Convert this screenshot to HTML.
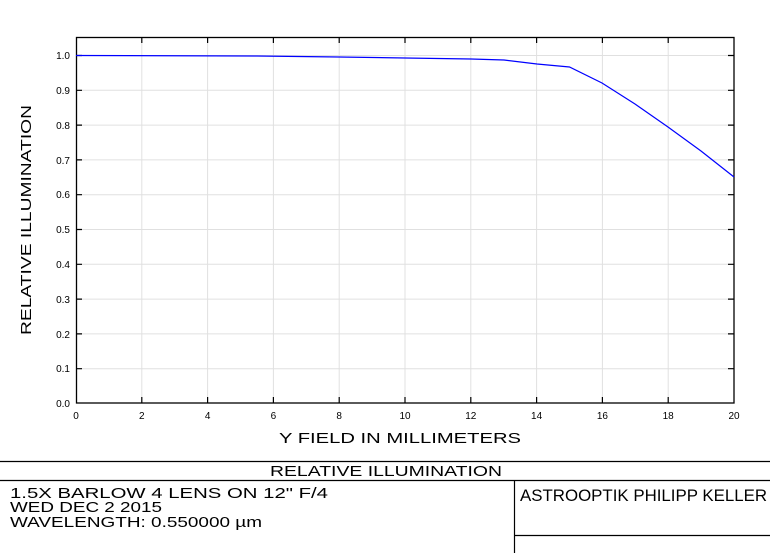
<!DOCTYPE html>
<html><head><style>
body{margin:0;background:#fff;}
svg{display:block;font-family:"Liberation Sans",sans-serif;}
</style></head><body>
<svg width="770" height="553" viewBox="0 0 770 553" xmlns="http://www.w3.org/2000/svg">
<g stroke="#e0e0e0" stroke-width="1">
<line x1="141.8" y1="37" x2="141.8" y2="403"/><line x1="207.6" y1="37" x2="207.6" y2="403"/>
<line x1="273.4" y1="37" x2="273.4" y2="403"/><line x1="339.2" y1="37" x2="339.2" y2="403"/>
<line x1="405" y1="37" x2="405" y2="403"/><line x1="470.8" y1="37" x2="470.8" y2="403"/>
<line x1="536.6" y1="37" x2="536.6" y2="403"/><line x1="602.4" y1="37" x2="602.4" y2="403"/>
<line x1="668.2" y1="37" x2="668.2" y2="403"/>
<line x1="76" y1="55.5" x2="734" y2="55.5"/><line x1="76" y1="90.3" x2="734" y2="90.3"/>
<line x1="76" y1="125.1" x2="734" y2="125.1"/><line x1="76" y1="159.9" x2="734" y2="159.9"/>
<line x1="76" y1="194.7" x2="734" y2="194.7"/><line x1="76" y1="229.5" x2="734" y2="229.5"/>
<line x1="76" y1="264.3" x2="734" y2="264.3"/><line x1="76" y1="299.1" x2="734" y2="299.1"/>
<line x1="76" y1="333.9" x2="734" y2="333.9"/><line x1="76" y1="368.7" x2="734" y2="368.7"/>
</g>
<rect x="76.5" y="37.5" width="657.5" height="365.5" fill="none" stroke="#000" stroke-width="1.3"/>
<g stroke="#000" stroke-width="1.2">
<path d="M141.8 403v-6M207.6 403v-6M273.4 403v-6M339.2 403v-6M405 403v-6M470.8 403v-6M536.6 403v-6M602.4 403v-6M668.2 403v-6"/>
<path d="M141.8 37v6M207.6 37v6M273.4 37v6M339.2 37v6M405 37v6M470.8 37v6M536.6 37v6M602.4 37v6M668.2 37v6"/>
<path d="M76 55.5h6M76 90.3h6M76 125.1h6M76 159.9h6M76 194.7h6M76 229.5h6M76 264.3h6M76 299.1h6M76 333.9h6M76 368.7h6"/>
<path d="M734 55.5h-6M734 90.3h-6M734 125.1h-6M734 159.9h-6M734 194.7h-6M734 229.5h-6M734 264.3h-6M734 299.1h-6M734 333.9h-6M734 368.7h-6"/>
</g>
<polyline fill="none" stroke="#0000ff" stroke-width="1.2" points="76,55.5 257,56 339,57 405,58 471,59 504,60 537,64 569.5,67 602,83 635,104 668,127 701,151 734,177"/>
<g font-size="10" fill="#000" text-anchor="end">
<text x="70" y="59">1.0</text><text x="70" y="94">0.9</text><text x="70" y="129">0.8</text>
<text x="70" y="164">0.7</text><text x="70" y="198">0.6</text><text x="70" y="233">0.5</text>
<text x="70" y="268">0.4</text><text x="70" y="303">0.3</text><text x="70" y="338">0.2</text>
<text x="70" y="372">0.1</text><text x="70" y="407">0.0</text>
</g>
<g font-size="10" fill="#000" text-anchor="middle">
<text x="76" y="419">0</text><text x="141.8" y="419">2</text><text x="207.6" y="419">4</text>
<text x="273.4" y="419">6</text><text x="339.2" y="419">8</text><text x="405" y="419">10</text>
<text x="470.8" y="419">12</text><text x="536.6" y="419">14</text><text x="602.4" y="419">16</text>
<text x="668.2" y="419">18</text><text x="734" y="419">20</text>
</g>
<text x="279" y="443" font-size="15" textLength="242" lengthAdjust="spacingAndGlyphs">Y FIELD IN MILLIMETERS</text>
<text transform="translate(31,335) rotate(-90)" font-size="15" textLength="230" lengthAdjust="spacingAndGlyphs">RELATIVE ILLUMINATION</text>
<g stroke="#000" stroke-width="1.2">
<line x1="0" y1="461.5" x2="770" y2="461.5"/>
<line x1="0" y1="480.5" x2="770" y2="480.5"/>
<line x1="514.5" y1="480" x2="514.5" y2="553"/>
<line x1="514" y1="535.5" x2="770" y2="535.5"/>
</g>
<text x="270" y="476" font-size="15" textLength="232" lengthAdjust="spacingAndGlyphs">RELATIVE ILLUMINATION</text>
<g font-size="14.5">
<text x="10" y="498" textLength="318" lengthAdjust="spacingAndGlyphs">1.5X BARLOW 4 LENS ON 12" F/4</text>
<text x="10" y="512" textLength="152" lengthAdjust="spacingAndGlyphs">WED DEC 2 2015</text>
<text x="10" y="527" textLength="252" lengthAdjust="spacingAndGlyphs">WAVELENGTH: 0.550000 µm</text>
</g>
<text x="520" y="501" font-size="17" textLength="247" lengthAdjust="spacingAndGlyphs">ASTROOPTIK PHILIPP KELLER</text>
</svg>
</body></html>
